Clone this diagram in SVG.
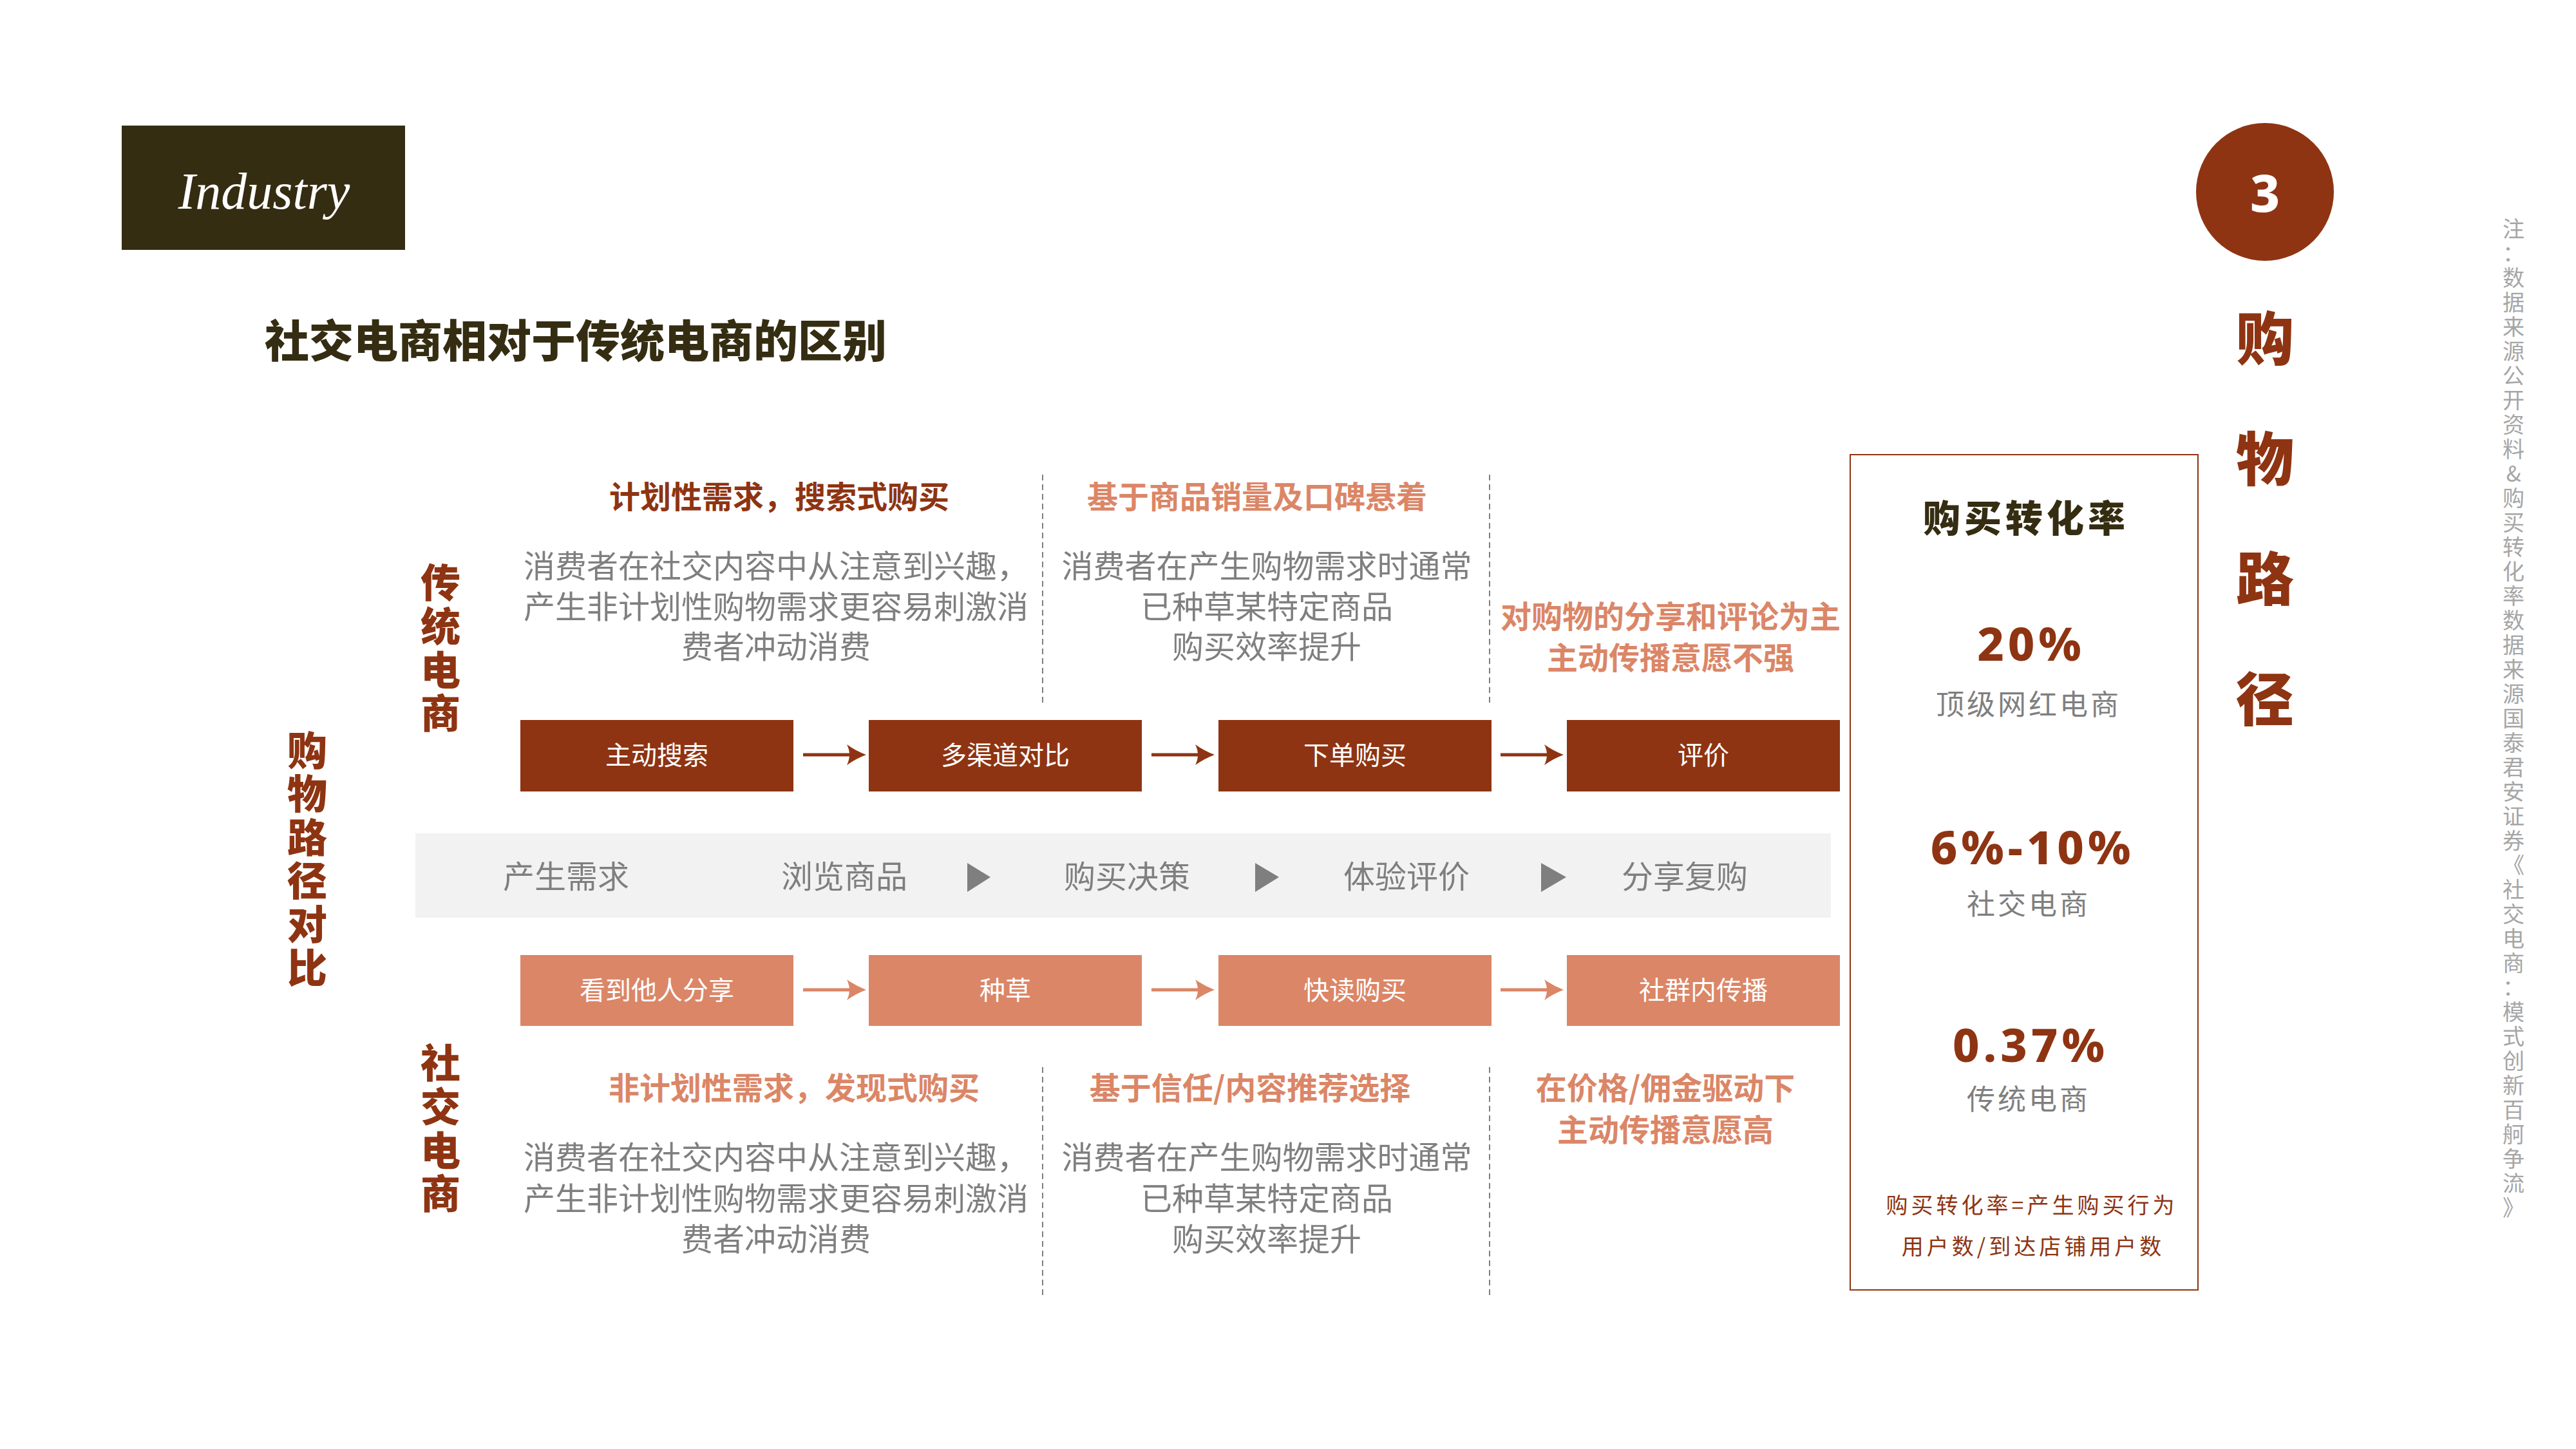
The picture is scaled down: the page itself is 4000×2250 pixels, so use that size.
<svg xmlns="http://www.w3.org/2000/svg" width="4000" height="2250" viewBox="0 0 4000 2250">
<style>
text{font-family:"Noto Sans CJK SC","Noto Sans",sans-serif}
.b{fill:#8e3412}
.s{fill:#db8667}
.g{fill:#7f7f7f}
.h{font-size:48px;font-weight:700;text-anchor:middle}
.body{font-size:49px;fill:#7f7f7f;text-anchor:middle}
.box{font-size:40px;fill:#ffffff;text-anchor:middle}
.vt{font-size:62px;font-weight:900;text-anchor:middle;fill:#8e3412}
.dash{stroke:#7f7f7f;stroke-width:2;stroke-dasharray:9 6;fill:none}
.big{font-family:"Noto Sans","DejaVu Sans",sans-serif;font-size:72px;font-weight:800;fill:#8e3412;text-anchor:middle;letter-spacing:6px}
.lbl{font-size:44px;fill:#7f7f7f;text-anchor:middle;letter-spacing:4px}
.arrB{stroke:#8e3412;stroke-width:5}
.arrS{stroke:#db8667;stroke-width:5}
</style>
<defs>
<marker id="hb" markerUnits="userSpaceOnUse" viewBox="0 0 30 32" refX="15" refY="16" markerWidth="30" markerHeight="32" orient="auto"><path d="M30,16 Q14,10 0,0 Q8,16 0,32 Q14,22 30,16Z" fill="#8e3412"/></marker>
<marker id="hs" markerUnits="userSpaceOnUse" viewBox="0 0 30 32" refX="15" refY="16" markerWidth="30" markerHeight="32" orient="auto"><path d="M30,16 Q14,10 0,0 Q8,16 0,32 Q14,22 30,16Z" fill="#db8667"/></marker>
</defs>
<rect width="4000" height="2250" fill="#ffffff"/>

<g id="header">
<rect x="189" y="195" width="440" height="193" fill="#352d12"/>
<text x="410" y="324" style="font-family:'Liberation Serif','DejaVu Serif',serif;font-style:italic;font-size:80px;fill:#ffffff;text-anchor:middle">Industry</text>
<text x="411" y="555" style="font-size:69px;font-weight:900;fill:#352d12">社交电商相对于传统电商的区别</text>
</g>

<g id="badge">
<circle cx="3517" cy="298" r="107" fill="#8e3412"/>
<text x="3517" y="329" style="font-family:'Noto Sans',sans-serif;font-size:80px;font-weight:800;fill:#ffffff;text-anchor:middle">3</text>
<text class="b" style="font-size:90px;font-weight:900;text-anchor:middle"><tspan x="3517" y="559">购</tspan><tspan x="3517" y="746">物</tspan><tspan x="3517" y="932">路</tspan><tspan x="3517" y="1119">径</tspan></text>
</g>

<g id="side-labels">
<text class="vt"><tspan x="477" y="1189">购</tspan><tspan x="477" y="1256">物</tspan><tspan x="477" y="1324">路</tspan><tspan x="477" y="1391">径</tspan><tspan x="477" y="1459">对</tspan><tspan x="477" y="1526">比</tspan></text>
<text class="vt"><tspan x="684" y="928">传</tspan><tspan x="684" y="996">统</tspan><tspan x="684" y="1064">电</tspan><tspan x="684" y="1131">商</tspan></text>
<text class="vt"><tspan x="684" y="1674">社</tspan><tspan x="684" y="1742">交</tspan><tspan x="684" y="1810">电</tspan><tspan x="684" y="1877">商</tspan></text>
</g>

<g id="traditional-text">
<text class="h b" x="1210" y="789">计划性需求，搜索式购买</text>
<text class="h s" x="1952" y="789">基于商品销量及口碑悬着</text>
<text class="body"><tspan x="1205" y="897">消费者在社交内容中从注意到兴趣，</tspan><tspan x="1205" y="960">产生非计划性购物需求更容易刺激消</tspan><tspan x="1205" y="1022">费者冲动消费</tspan></text>
<text class="body"><tspan x="1967" y="897">消费者在产生购物需求时通常</tspan><tspan x="1967" y="960">已种草某特定商品</tspan><tspan x="1967" y="1022">购买效率提升</tspan></text>
<text class="h s"><tspan x="2594" y="975">对购物的分享和评论为主</tspan><tspan x="2594" y="1039">主动传播意愿不强</tspan></text>
</g>

<g id="social-text">
<text class="h s" x="1233" y="1707">非计划性需求，发现式购买</text>
<text class="h s" x="1941" y="1707">基于信任/内容推荐选择</text>
<text class="h s"><tspan x="2586" y="1707">在价格/佣金驱动下</tspan><tspan x="2586" y="1772">主动传播意愿高</tspan></text>
<text class="body"><tspan x="1205" y="1815">消费者在社交内容中从注意到兴趣，</tspan><tspan x="1205" y="1879">产生非计划性购物需求更容易刺激消</tspan><tspan x="1205" y="1942">费者冲动消费</tspan></text>
<text class="body"><tspan x="1967" y="1815">消费者在产生购物需求时通常</tspan><tspan x="1967" y="1879">已种草某特定商品</tspan><tspan x="1967" y="1942">购买效率提升</tspan></text>
</g>

<g id="dividers">
<line class="dash" x1="1619" y1="737" x2="1619" y2="1093"/>
<line class="dash" x1="2313" y1="737" x2="2313" y2="1093"/>
<line class="dash" x1="1619" y1="1657" x2="1619" y2="2012"/>
<line class="dash" x1="2313" y1="1657" x2="2313" y2="2012"/>
</g>

<g id="node-t1"><rect x="808" y="1118" width="424" height="111" class="b"/><text class="box" x="1020" y="1187">主动搜索</text></g>
<g id="node-t2"><rect x="1349" y="1118" width="424" height="111" class="b"/><text class="box" x="1561" y="1187">多渠道对比</text></g>
<g id="node-t3"><rect x="1892" y="1118" width="424" height="111" class="b"/><text class="box" x="2104" y="1187">下单购买</text></g>
<g id="node-t4"><rect x="2433" y="1118" width="424" height="111" class="b"/><text class="box" x="2645" y="1187">评价</text></g>

<g id="node-s1"><rect x="808" y="1483" width="424" height="110" class="s"/><text class="box" x="1020" y="1552">看到他人分享</text></g>
<g id="node-s2"><rect x="1349" y="1483" width="424" height="110" class="s"/><text class="box" x="1561" y="1552">种草</text></g>
<g id="node-s3"><rect x="1892" y="1483" width="424" height="110" class="s"/><text class="box" x="2104" y="1552">快读购买</text></g>
<g id="node-s4"><rect x="2433" y="1483" width="424" height="110" class="s"/><text class="box" x="2645" y="1552">社群内传播</text></g>

<g id="connectors">
<line class="arrB" x1="1247" y1="1172" x2="1330" y2="1172" marker-end="url(#hb)"/>
<line class="arrB" x1="1788" y1="1172" x2="1871" y2="1172" marker-end="url(#hb)"/>
<line class="arrB" x1="2330" y1="1172" x2="2413" y2="1172" marker-end="url(#hb)"/>
<line class="arrS" x1="1247" y1="1537" x2="1330" y2="1537" marker-end="url(#hs)"/>
<line class="arrS" x1="1788" y1="1537" x2="1871" y2="1537" marker-end="url(#hs)"/>
<line class="arrS" x1="2330" y1="1537" x2="2413" y2="1537" marker-end="url(#hs)"/>
</g>

<g id="stage-band">
<rect x="645" y="1294" width="2198" height="131" fill="#f2f2f2"/>
<text class="body" x="879" y="1379">产生需求</text>
<text class="body" x="1311" y="1379">浏览商品</text>
<polygon points="1502,1340 1538,1362 1502,1385" fill="#7f7f7f"/>
<text class="body" x="1750" y="1379">购买决策</text>
<polygon points="1949,1340 1986,1362 1949,1385" fill="#7f7f7f"/>
<text class="body" x="2184" y="1379">体验评价</text>
<polygon points="2393,1340 2432,1362 2393,1385" fill="#7f7f7f"/>
<text class="body" x="2616" y="1379">分享复购</text>
</g>

<g id="conversion-panel">
<rect x="2873" y="706" width="540" height="1297" fill="none" stroke="#8e3412" stroke-width="2"/>
<text x="3146" y="826" style="font-size:58px;font-weight:900;fill:#352d12;text-anchor:middle;letter-spacing:6px">购买转化率</text>
<text class="big" x="3154" y="1026">20%</text>
<text class="lbl" x="3150" y="1110">顶级网红电商</text>
<text class="big" x="3156" y="1342">6%-10%</text>
<text class="lbl" x="3150" y="1420">社交电商</text>
<text class="big" x="3153" y="1649">0.37%</text>
<text class="lbl" x="3150" y="1723">传统电商</text>
<text class="b" style="font-size:34px;text-anchor:middle;letter-spacing:5px"><tspan x="3155" y="1884">购买转化率=产生购买行为</tspan><tspan x="3157" y="1948">用户数/到达店铺用户数</tspan></text>
</g>

<g id="footnote">
<text style="font-size:34px;fill:#a6a6a6;text-anchor:middle"><tspan x="3903" y="368">注</tspan><tspan x="3903" y="406">：</tspan><tspan x="3903" y="444">数</tspan><tspan x="3903" y="482">据</tspan><tspan x="3903" y="520">来</tspan><tspan x="3903" y="558">源</tspan><tspan x="3903" y="596">公</tspan><tspan x="3903" y="634">开</tspan><tspan x="3903" y="672">资</tspan><tspan x="3903" y="710">料</tspan><tspan x="3903" y="748">&amp;</tspan><tspan x="3903" y="786">购</tspan><tspan x="3903" y="824">买</tspan><tspan x="3903" y="862">转</tspan><tspan x="3903" y="900">化</tspan><tspan x="3903" y="938">率</tspan><tspan x="3903" y="976">数</tspan><tspan x="3903" y="1014">据</tspan><tspan x="3903" y="1052">来</tspan><tspan x="3903" y="1090">源</tspan><tspan x="3903" y="1128">国</tspan><tspan x="3903" y="1166">泰</tspan><tspan x="3903" y="1204">君</tspan><tspan x="3903" y="1242">安</tspan><tspan x="3903" y="1280">证</tspan><tspan x="3903" y="1318">券</tspan><tspan x="3903" y="1356">《</tspan><tspan x="3903" y="1394">社</tspan><tspan x="3903" y="1432">交</tspan><tspan x="3903" y="1470">电</tspan><tspan x="3903" y="1508">商</tspan><tspan x="3903" y="1546">：</tspan><tspan x="3903" y="1584">模</tspan><tspan x="3903" y="1622">式</tspan><tspan x="3903" y="1660">创</tspan><tspan x="3903" y="1698">新</tspan><tspan x="3903" y="1736">百</tspan><tspan x="3903" y="1774">舸</tspan><tspan x="3903" y="1812">争</tspan><tspan x="3903" y="1850">流</tspan><tspan x="3903" y="1888">》</tspan></text>
</g>
</svg>
